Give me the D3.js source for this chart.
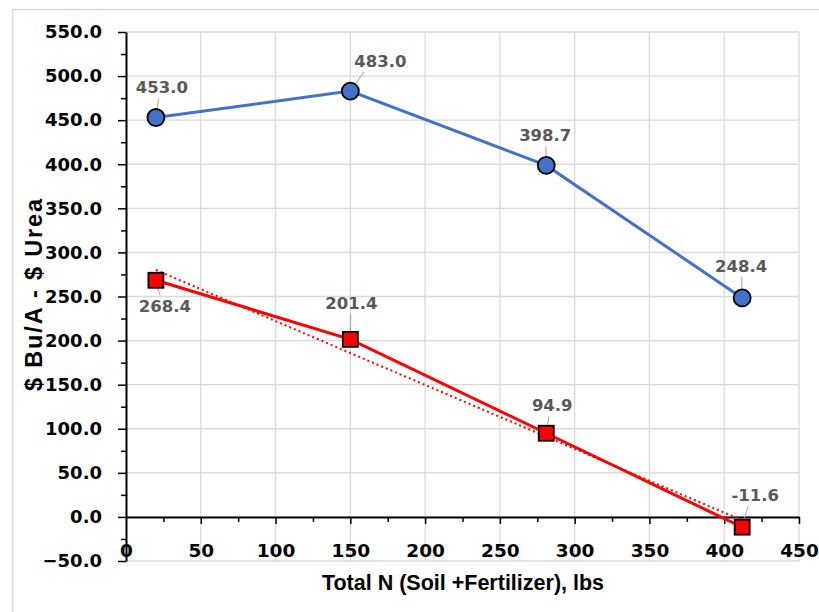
<!DOCTYPE html>
<html>
<head>
<meta charset="utf-8">
<script src="https://cdn.jsdelivr.net/npm/d3@7"></script>
<style>
  body { margin: 0; background: #fff; }
</style>
</head>
<body>
<div id="chart"></div>
<script>
// data
const nTotal = [20, 150, 281, 412];
const blueValues = [453.0, 483.0, 398.7, 248.4];
const redValues = [268.4, 201.4, 94.9, -11.6];
const xTicks = [0, 50, 100, 150, 200, 250, 300, 350, 400, 450];
const yTicks = [-50, 0, 50, 100, 150, 200, 250, 300, 350, 400, 450, 500, 550];

// label offsets (px) from each marker
const blueLabelOffset = [[6, -30], [30, -30], [-1, -30], [-1, -32]];
const redLabelOffset = [[9, 26], [1, -36], [6, -28], [13, -32]];

const W = 819, H = 612;
const margin = {top: 32, right: 20, bottom: 51, left: 126};
const width = 799 - margin.left,
      height = 561 - margin.top;

const svg = d3.select("#chart")
              .append("svg")
              .attr("width", W)
              .attr("height", H);

// chart area border
svg.append("rect")
   .attr("x", 12.5).attr("y", 9.5)
   .attr("width", 900).attr("height", 700)
   .attr("fill", "none")
   .attr("stroke", "#d9d9d9")
   .attr("stroke-width", 1.5);

const g = svg.append("g")
             .attr("transform", `translate(${margin.left},${margin.top})`);

const x = d3.scaleLinear().domain([0, 450]).range([0, width]);
const y = d3.scaleLinear().domain([-50, 550]).range([height, 0]);

// gridlines
g.selectAll("line.hgrid")
 .data(yTicks)
 .enter().append("line")
 .attr("x1", 0).attr("x2", width)
 .attr("y1", d => y(d)).attr("y2", d => y(d))
 .attr("stroke", "#d9d9d9").attr("stroke-width", 1.3);

g.selectAll("line.vgrid")
 .data(xTicks.slice(1))
 .enter().append("line")
 .attr("x1", d => x(d)).attr("x2", d => x(d))
 .attr("y1", 0).attr("y2", height)
 .attr("stroke", "#d9d9d9").attr("stroke-width", 1.3);

// y axis (major + minor ticks)
const yMinor = d3.range(-25, 550, 50);
g.append("g")
 .call(d3.axisLeft(y).tickValues(yMinor).tickSize(5).tickFormat(""))
 .call(a => a.select(".domain").remove())
 .selectAll("line").attr("stroke", "#000").attr("stroke-width", 1.5);

const yAxis = g.append("g")
               .call(d3.axisLeft(y).tickValues(yTicks).tickSize(8).tickSizeOuter(0).tickFormat(d3.format(".1f")));
yAxis.select(".domain").attr("stroke", "#000").attr("stroke-width", 2);
yAxis.selectAll("line").attr("stroke", "#000").attr("stroke-width", 1.5);
yAxis.selectAll("text")
     .attr("x", -24)
     .attr("fill", "#000")
     .style("font-family", "DejaVu Sans")
     .style("font-weight", "bold")
     .style("font-size", "18px");

// x axis at y = 0
const xMinor = d3.range(25, 450, 50);
g.append("g")
 .attr("transform", `translate(0,${y(0)})`)
 .call(d3.axisBottom(x).tickValues(xMinor).tickSize(5).tickFormat(""))
 .call(a => a.select(".domain").remove())
 .selectAll("line").attr("stroke", "#000").attr("stroke-width", 1.5);

const xAxis = g.append("g")
               .attr("transform", `translate(0,${y(0)})`)
               .call(d3.axisBottom(x).tickValues(xTicks).tickSize(7).tickSizeOuter(0));
xAxis.select(".domain").attr("stroke", "#000").attr("stroke-width", 2);
xAxis.selectAll("line").attr("stroke", "#000").attr("stroke-width", 1.5);
xAxis.selectAll("line").filter(d => d === 0).remove();
xAxis.selectAll("text")
     .attr("y", 34)
     .attr("dy", "0.35em")
     .attr("fill", "#000")
     .style("font-family", "DejaVu Sans")
     .style("font-weight", "bold")
     .style("font-size", "18.5px");

// axis titles
svg.append("text")
   .attr("x", 463)
   .attr("y", 590)
   .attr("text-anchor", "middle")
   .style("font-family", "Liberation Sans, sans-serif")
   .style("font-weight", "bold")
   .style("font-size", "21.5px")
   .text("Total N (Soil +Fertilizer), lbs");

svg.append("text")
   .attr("transform", "translate(42,295) rotate(-90)")
   .attr("text-anchor", "middle")
   .attr("textLength", 192)
   .attr("lengthAdjust", "spacing")
   .style("font-family", "Liberation Sans, sans-serif")
   .style("font-weight", "bold")
   .style("font-size", "23.5px")
   .text("$ Bu/A - $ Urea");

// linear trendline of the red series
const mx = d3.mean(nTotal), my = d3.mean(redValues);
const slope = d3.sum(nTotal, (v, i) => (v - mx) * (redValues[i] - my)) /
              d3.sum(nTotal, v => (v - mx) * (v - mx));
const trend = [nTotal[0], nTotal[nTotal.length - 1]].map(v => [v, my + slope * (v - mx)]);

g.append("path")
 .datum(trend)
 .attr("fill", "none")
 .attr("stroke", "#ff0000")
 .attr("stroke-width", 2)
 .attr("stroke-dasharray", "2,3")
 .attr("d", d3.line().x(d => x(d[0])).y(d => y(d[1])));

const line = d3.line()
               .x(d => x(d[0]))
               .y(d => y(d[1]));

const blue = nTotal.map((v, i) => [v, blueValues[i]]);
const red = nTotal.map((v, i) => [v, redValues[i]]);

g.append("path")
 .datum(blue)
 .attr("fill", "none")
 .attr("stroke", "#4472c4")
 .attr("stroke-width", 3)
 .attr("d", line);

g.append("path")
 .datum(red)
 .attr("fill", "none")
 .attr("stroke", "#ff0000")
 .attr("stroke-width", 3)
 .attr("d", line);

// leader lines
const leaders = blue.map((d, i) => [d, blueLabelOffset[i]])
                    .concat(red.map((d, i) => [d, redLabelOffset[i]]));
leaders.forEach(([d, o]) => {
    const px = x(d[0]), py = y(d[1]);
    const sign = o[1] < 0 ? -1 : 1;
    g.append("line")
     .attr("x1", px).attr("y1", py)
     .attr("x2", px + o[0] * 0.45).attr("y2", py + o[1] - sign * 11)
     .attr("stroke", "#a6a6a6")
     .attr("stroke-width", 1);
});

// markers
g.selectAll("circle.blue")
 .data(blue)
 .enter().append("circle")
 .attr("cx", d => x(d[0]))
 .attr("cy", d => y(d[1]))
 .attr("r", 8.5)
 .attr("fill", "#4472c4")
 .attr("stroke", "#000")
 .attr("stroke-width", 1.8);

g.selectAll("rect.red")
 .data(red)
 .enter().append("rect")
 .attr("x", d => x(d[0]) - 7.5)
 .attr("y", d => y(d[1]) - 7.5)
 .attr("width", 15)
 .attr("height", 15)
 .attr("fill", "#ff0000")
 .attr("stroke", "#000")
 .attr("stroke-width", 1.8);

// data labels
const labelStyle = sel => sel
    .attr("text-anchor", "middle")
    .attr("dy", "0.35em")
    .attr("fill", "#595959")
    .style("font-family", "DejaVu Sans")
    .style("font-weight", "bold")
    .style("font-size", "16.5px");

g.selectAll("text.blueLabel")
 .data(blue)
 .enter().append("text")
 .attr("x", (d, i) => x(d[0]) + blueLabelOffset[i][0])
 .attr("y", (d, i) => y(d[1]) + blueLabelOffset[i][1])
 .call(labelStyle)
 .text(d => d[1].toFixed(1));

g.selectAll("text.redLabel")
 .data(red)
 .enter().append("text")
 .attr("x", (d, i) => x(d[0]) + redLabelOffset[i][0])
 .attr("y", (d, i) => y(d[1]) + redLabelOffset[i][1])
 .call(labelStyle)
 .text(d => d[1].toFixed(1));
</script>
</body>
</html>
